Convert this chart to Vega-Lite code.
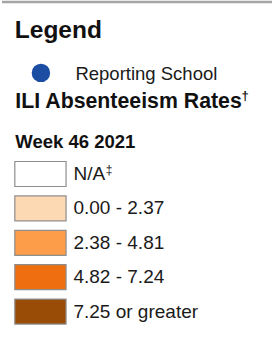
{
  "$schema": "https://vega.github.io/schema/vega-lite/v6.json",
  "width": 274,
  "height": 339,
  "autosize": {"type": "fit", "contains": "padding"},
  "padding": 0,
  "background": "white",
  "config": {"view": {"stroke": null}, "font": "Liberation Sans"},
  "data": {
    "values": [
      {"kind": "title", "text": "Legend", "row": -3.148},
      {"kind": "point", "text": "Reporting School", "row": -1.91},
      {"kind": "subtitle", "text": "ILI Absenteeism Rates", "row": -1.081},
      {"kind": "week", "text": "Week 46 2021", "row": 0.072},
      {"kind": "bin", "text": "N/A", "row": 1},
      {"kind": "bin", "text": "0.00 - 2.37", "row": 2},
      {"kind": "bin", "text": "2.38 - 4.81", "row": 3},
      {"kind": "bin", "text": "4.82 - 7.24", "row": 4},
      {"kind": "bin", "text": "7.25 or greater", "row": 5}
    ]
  },
  "encoding": {
    "y": {
      "field": "row",
      "type": "quantitative",
      "scale": {"domain": [-4.029, 5.797], "reverse": true, "nice": false, "zero": false},
      "axis": null
    }
  },
  "layer": [
    {
      "transform": [{"filter": "datum.kind === 'title'"}],
      "mark": {"type": "rule", "color": "#a5a5a5", "strokeWidth": 2.5},
      "encoding": {"y": {"datum": -4.0}}
    },
    {
      "transform": [{"filter": "datum.kind === 'title'"}],
      "mark": {"type": "text", "align": "left", "baseline": "middle", "fontSize": 24.5, "fontWeight": "bold", "color": "#111111"},
      "encoding": {
        "x": {"datum": 13, "scale": {"domain": [0, 274], "nice": false, "zero": false}, "axis": null},
        "text": {"field": "text"}
      }
    },
    {
      "transform": [{"filter": "datum.kind === 'subtitle'"}],
      "mark": {"type": "text", "align": "left", "baseline": "middle", "fontSize": 21.3, "fontWeight": "bold", "color": "#111111"},
      "encoding": {"x": {"datum": 13.5}, "text": {"field": "text"}}
    },
    {
      "transform": [{"filter": "datum.kind === 'subtitle'"}],
      "mark": {"type": "text", "align": "left", "baseline": "middle", "fontSize": 13, "fontWeight": "bold", "color": "#111111", "yOffset": -6},
      "encoding": {"x": {"datum": 243}, "text": {"value": "†"}}
    },
    {
      "transform": [{"filter": "datum.kind === 'week'"}],
      "mark": {"type": "text", "align": "left", "baseline": "middle", "fontSize": 18.5, "fontWeight": "bold", "color": "#111111"},
      "encoding": {"x": {"datum": 13.5}, "text": {"field": "text"}}
    },
    {
      "transform": [{"filter": "datum.kind === 'point'"}],
      "mark": {"type": "point", "shape": "circle", "filled": true, "opacity": 1, "size": 340, "color": "#1b4ea3", "yOffset": -1},
      "encoding": {"x": {"datum": 39.5}}
    },
    {
      "transform": [{"filter": "datum.kind === 'point'"}],
      "mark": {"type": "text", "align": "left", "baseline": "middle", "fontSize": 18.5, "color": "#1a1a1a"},
      "encoding": {"x": {"datum": 74.5}, "text": {"field": "text"}}
    },
    {
      "transform": [{"filter": "datum.kind === 'bin'"}],
      "mark": {"type": "rect", "stroke": "#8e8e8e", "strokeWidth": 1.2, "yOffset": -12.5, "y2Offset": 12.5},
      "encoding": {
        "x": {"datum": 13},
        "x2": {"datum": 65},
        "y2": {"field": "row"},
        "fill": {
          "field": "text",
          "type": "nominal",
          "scale": {
            "domain": ["N/A", "0.00 - 2.37", "2.38 - 4.81", "4.82 - 7.24", "7.25 or greater"],
            "range": ["#ffffff", "#fdd9b3", "#fd9c49", "#ef6e0f", "#994c06"]
          },
          "legend": null
        }
      }
    },
    {
      "transform": [{"filter": "datum.kind === 'bin'"}],
      "mark": {"type": "text", "align": "left", "baseline": "middle", "fontSize": 19, "color": "#1a1a1a"},
      "encoding": {"x": {"datum": 72.5}, "text": {"field": "text"}}
    },
    {
      "transform": [{"filter": "datum.text === 'N/A'"}],
      "mark": {"type": "text", "align": "left", "baseline": "middle", "fontSize": 12, "color": "#1a1a1a", "yOffset": -4},
      "encoding": {"x": {"datum": 105.2}, "text": {"value": "‡"}}
    }
  ]
}
